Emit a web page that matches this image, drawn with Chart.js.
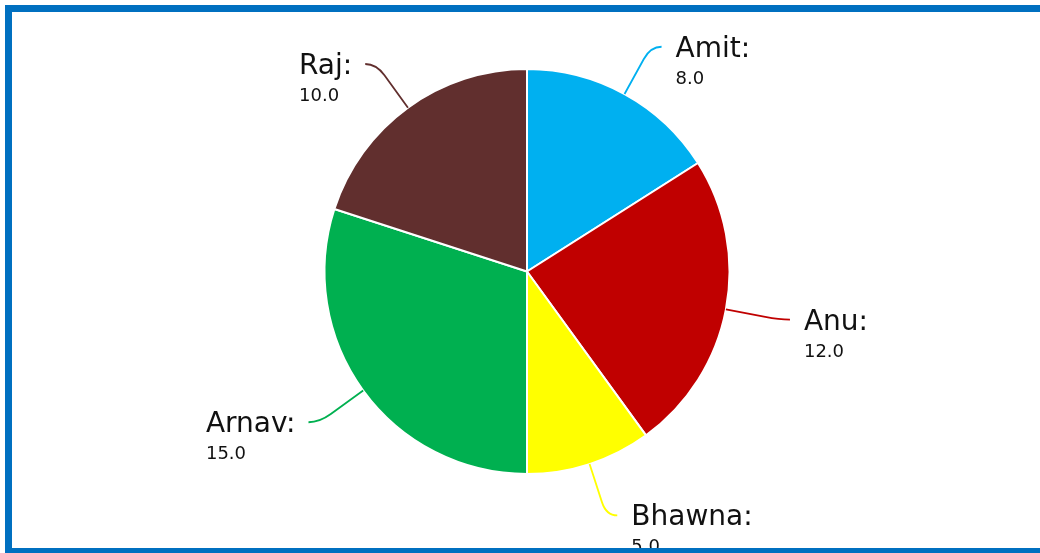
<!DOCTYPE html>
<html>
<head>
<meta charset="utf-8">
<script src="https://cdn.jsdelivr.net/npm/chart.js@4"></script>
<style>
    html, body { margin: 0; padding: 0; background: #fff; overflow: hidden; }
    body { width: 1040px; height: 553px; position: relative; }
    #pieChart { position: absolute; left: 0; top: 0; }
    .frame {
        position: absolute; left: 5px; top: 5px;
        width: 1060px; height: 536px;
        border: 7.5px solid #0070C0;
        pointer-events: none;
    }
</style>
</head>
<body>
<canvas id="pieChart" width="1040" height="553"></canvas>
<div class="frame"></div>
<script>
var names = ['Amit', 'Anu', 'Bhawna', 'Arnav', 'Raj'];
var marks = [8, 12, 5, 15, 10];
var sliceColors = ['#00B0F0', '#C00000', '#FFFF00', '#00B050', '#612F2E'];

// leader lines + "Name:" / value labels outside each slice
var outsideLabels = {
    id: 'outsideLabels',
    afterDatasetsDraw: function(chart) {
        var ctx = chart.ctx;
        var meta = chart.getDatasetMeta(0);
        meta.data.forEach(function(arc, i) {
            var mid = (arc.startAngle + arc.endAngle) / 2;
            var dx = Math.cos(mid), dy = Math.sin(mid);
            var r = arc.outerRadius;
            var p0x = arc.x + r * dx, p0y = arc.y + r * dy;
            var bx = p0x + 54 * dx, by = p0y + 54 * dy;
            var side = dx >= 0 ? 1 : -1;
            var ex = bx + side * 11, ey = by;

            ctx.save();
            ctx.strokeStyle = sliceColors[i];
            ctx.lineWidth = 1.8;
            ctx.beginPath();
            ctx.moveTo(p0x, p0y);
            ctx.lineTo(p0x + 40 * dx, p0y + 40 * dy);
            ctx.quadraticCurveTo(bx, by, ex, ey);
            ctx.stroke();

            var label = names[i] + ':';
            ctx.fillStyle = '#111';
            ctx.textBaseline = 'alphabetic';
            ctx.textAlign = 'left';
            ctx.font = '28px "DejaVu Sans"';
            var w = ctx.measureText(label).width;
            var tx = side > 0 ? ex + 14 : ex - 13 - w;
            var base = ey + 10;
            ctx.fillText(label, tx, base);
            ctx.font = '18px "DejaVu Sans"';
            ctx.fillText(marks[i].toFixed(1), tx, base + 27);
            ctx.restore();
        });
    }
};

var pieChart = new Chart(document.getElementById('pieChart').getContext('2d'), {
    type: 'pie',
    data: {
        labels: names,
        datasets: [{
            data: marks,
            backgroundColor: sliceColors,
            borderColor: '#ffffff',
            borderWidth: 2
        }]
    },
    options: {
        responsive: false,
        animation: false,
        layout: {
            padding: { left: 323.5, right: 309.5, top: 68, bottom: 78 }
        },
        plugins: {
            legend: { display: false },
            tooltip: { enabled: false }
        }
    },
    plugins: [outsideLabels]
});
</script>
</body>
</html>
